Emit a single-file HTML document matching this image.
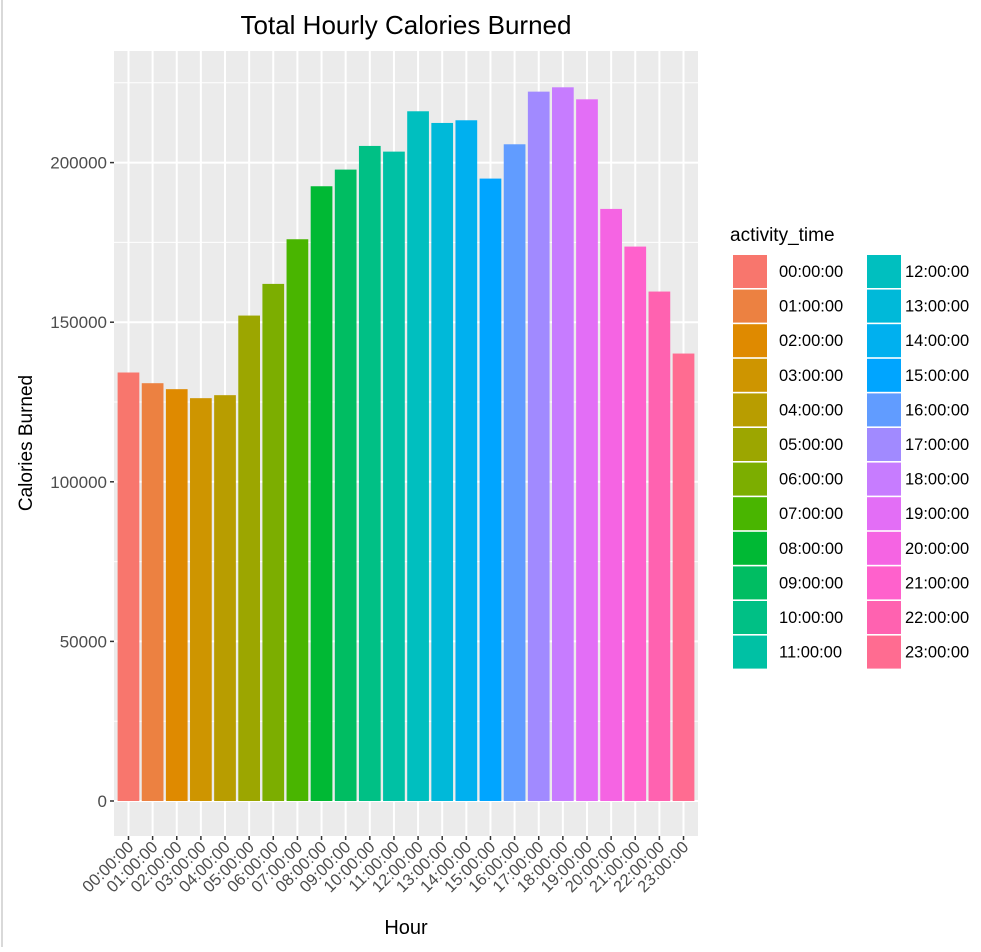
<!DOCTYPE html>
<html><head><meta charset="utf-8"><style>
html,body{margin:0;padding:0;background:#fff;}
body{width:981px;height:947px;overflow:hidden;font-family:"Liberation Sans",sans-serif;}
</style></head><body>
<svg id="chart" width="981" height="947" xmlns="http://www.w3.org/2000/svg" font-family="Liberation Sans, sans-serif">
<rect x="1" y="0" width="2" height="947" fill="#d9d9d9"/>
<text x="406" y="34" font-size="26" text-anchor="middle" fill="#000">Total Hourly Calories Burned</text>
<rect x="114" y="51" width="584" height="785" fill="#ebebeb"/>
<g id="grid"></g>
<g id="bars"></g>
<g id="yaxis"></g>
<g id="xaxis"></g>
<text x="406" y="934" font-size="20" text-anchor="middle" fill="#000">Hour</text>
<text transform="translate(32,443) rotate(-90)" font-size="19" text-anchor="middle" fill="#000">Calories Burned</text>
<text x="730" y="241" font-size="19" fill="#000">activity_time</text>
<g id="legend"></g>
</svg>
<script>
const categories=["00:00:00","01:00:00","02:00:00","03:00:00","04:00:00","05:00:00","06:00:00","07:00:00","08:00:00","09:00:00","10:00:00","11:00:00","12:00:00","13:00:00","14:00:00","15:00:00","16:00:00","17:00:00","18:00:00","19:00:00","20:00:00","21:00:00","22:00:00","23:00:00"];
const values=[134240,130890,129020,126200,127140,152080,162000,175990,192590,197810,205220,203440,216080,212420,213260,194990,205740,222230,223590,219830,185490,173690,159600,140180];
const colors=["#F8766D","#EC8141","#DF8A00","#CE9500","#B89D00","#9CA600","#7CAE00","#49B500","#00B934","#00BD62","#00C085","#00C1A4","#00BFBF","#00B9D9","#00B0EF","#00A5FF","#619CFF","#A18AFF","#C77CFF","#E36EF6","#F564E3","#FF61CC","#FF62B0","#FF6C91"];
const yTicks=[0,50000,100000,150000,200000];
const yTickLabels=["0","50000","100000","150000","200000"];
const NS="http://www.w3.org/2000/svg";
function mk(tag,attrs,parent){const e=document.createElementNS(NS,tag);for(const k in attrs)e.setAttribute(k,attrs[k]);parent.appendChild(e);return e;}
const pL=114,pR=698,pT=51,pB=836;
const n=categories.length;
const step=(pR-pL)/(n-1+1.2);
function xPos(i){return pL+(0.6+i)*step;}
function yPos(v){return 801-v*159.6/50000;}
const grid=document.getElementById('grid');
for(let v=25000;v<=225000;v+=50000){const y=yPos(v);if(y>pT&&y<pB){const l=mk('line',{x1:pL,x2:pR,y1:y,y2:y,stroke:'#fff','stroke-width':1},grid);

}}
yTicks.forEach(v=>{const y=yPos(v);const l=mk('line',{x1:pL,x2:pR,y1:y,y2:y,stroke:'#fff','stroke-width':2},grid);

});
categories.forEach((c,i)=>{const x=xPos(i);const l=mk('line',{x1:x,x2:x,y1:pT,y2:pB,stroke:'#fff','stroke-width':2},grid);

});
const bars=document.getElementById('bars');
const bw=step*0.9;
values.forEach((v,i)=>{const y=yPos(v);const r=mk('rect',{x:xPos(i)-bw/2,y:y,width:bw,height:yPos(0)-y,fill:colors[i]},bars);

});
const ya=document.getElementById('yaxis');
yTicks.forEach((v,i)=>{const y=yPos(v);mk('line',{x1:pL-4,x2:pL,y1:y,y2:y,stroke:'#333','stroke-width':1.5},ya);
const t=mk('text',{x:pL-7,y:y+6,'font-size':17,'text-anchor':'end',fill:'#4d4d4d'},ya);t.textContent=yTickLabels[i];

});
const xa=document.getElementById('xaxis');
categories.forEach((c,i)=>{const x=xPos(i);mk('line',{x1:x,x2:x,y1:pB,y2:pB+4,stroke:'#333','stroke-width':1.5},xa);
const t=mk('text',{transform:`translate(${x+6},${pB+12}) rotate(-45)`,'font-size':16.5,'text-anchor':'end',fill:'#4d4d4d'},xa);t.textContent=c;

});
const lg=document.getElementById('legend');
categories.forEach((c,i)=>{const col=Math.floor(i/12),row=i%12;const kx=col?867:733;const ky=255+row*34.6;
const r=mk('rect',{x:kx,y:ky,width:34,height:33,fill:colors[i]},lg);


const t=mk('text',{x:col?905:779,y:ky+22,'font-size':16.5,fill:'#000'},lg);t.textContent=c;

});
</script>
</body></html>
